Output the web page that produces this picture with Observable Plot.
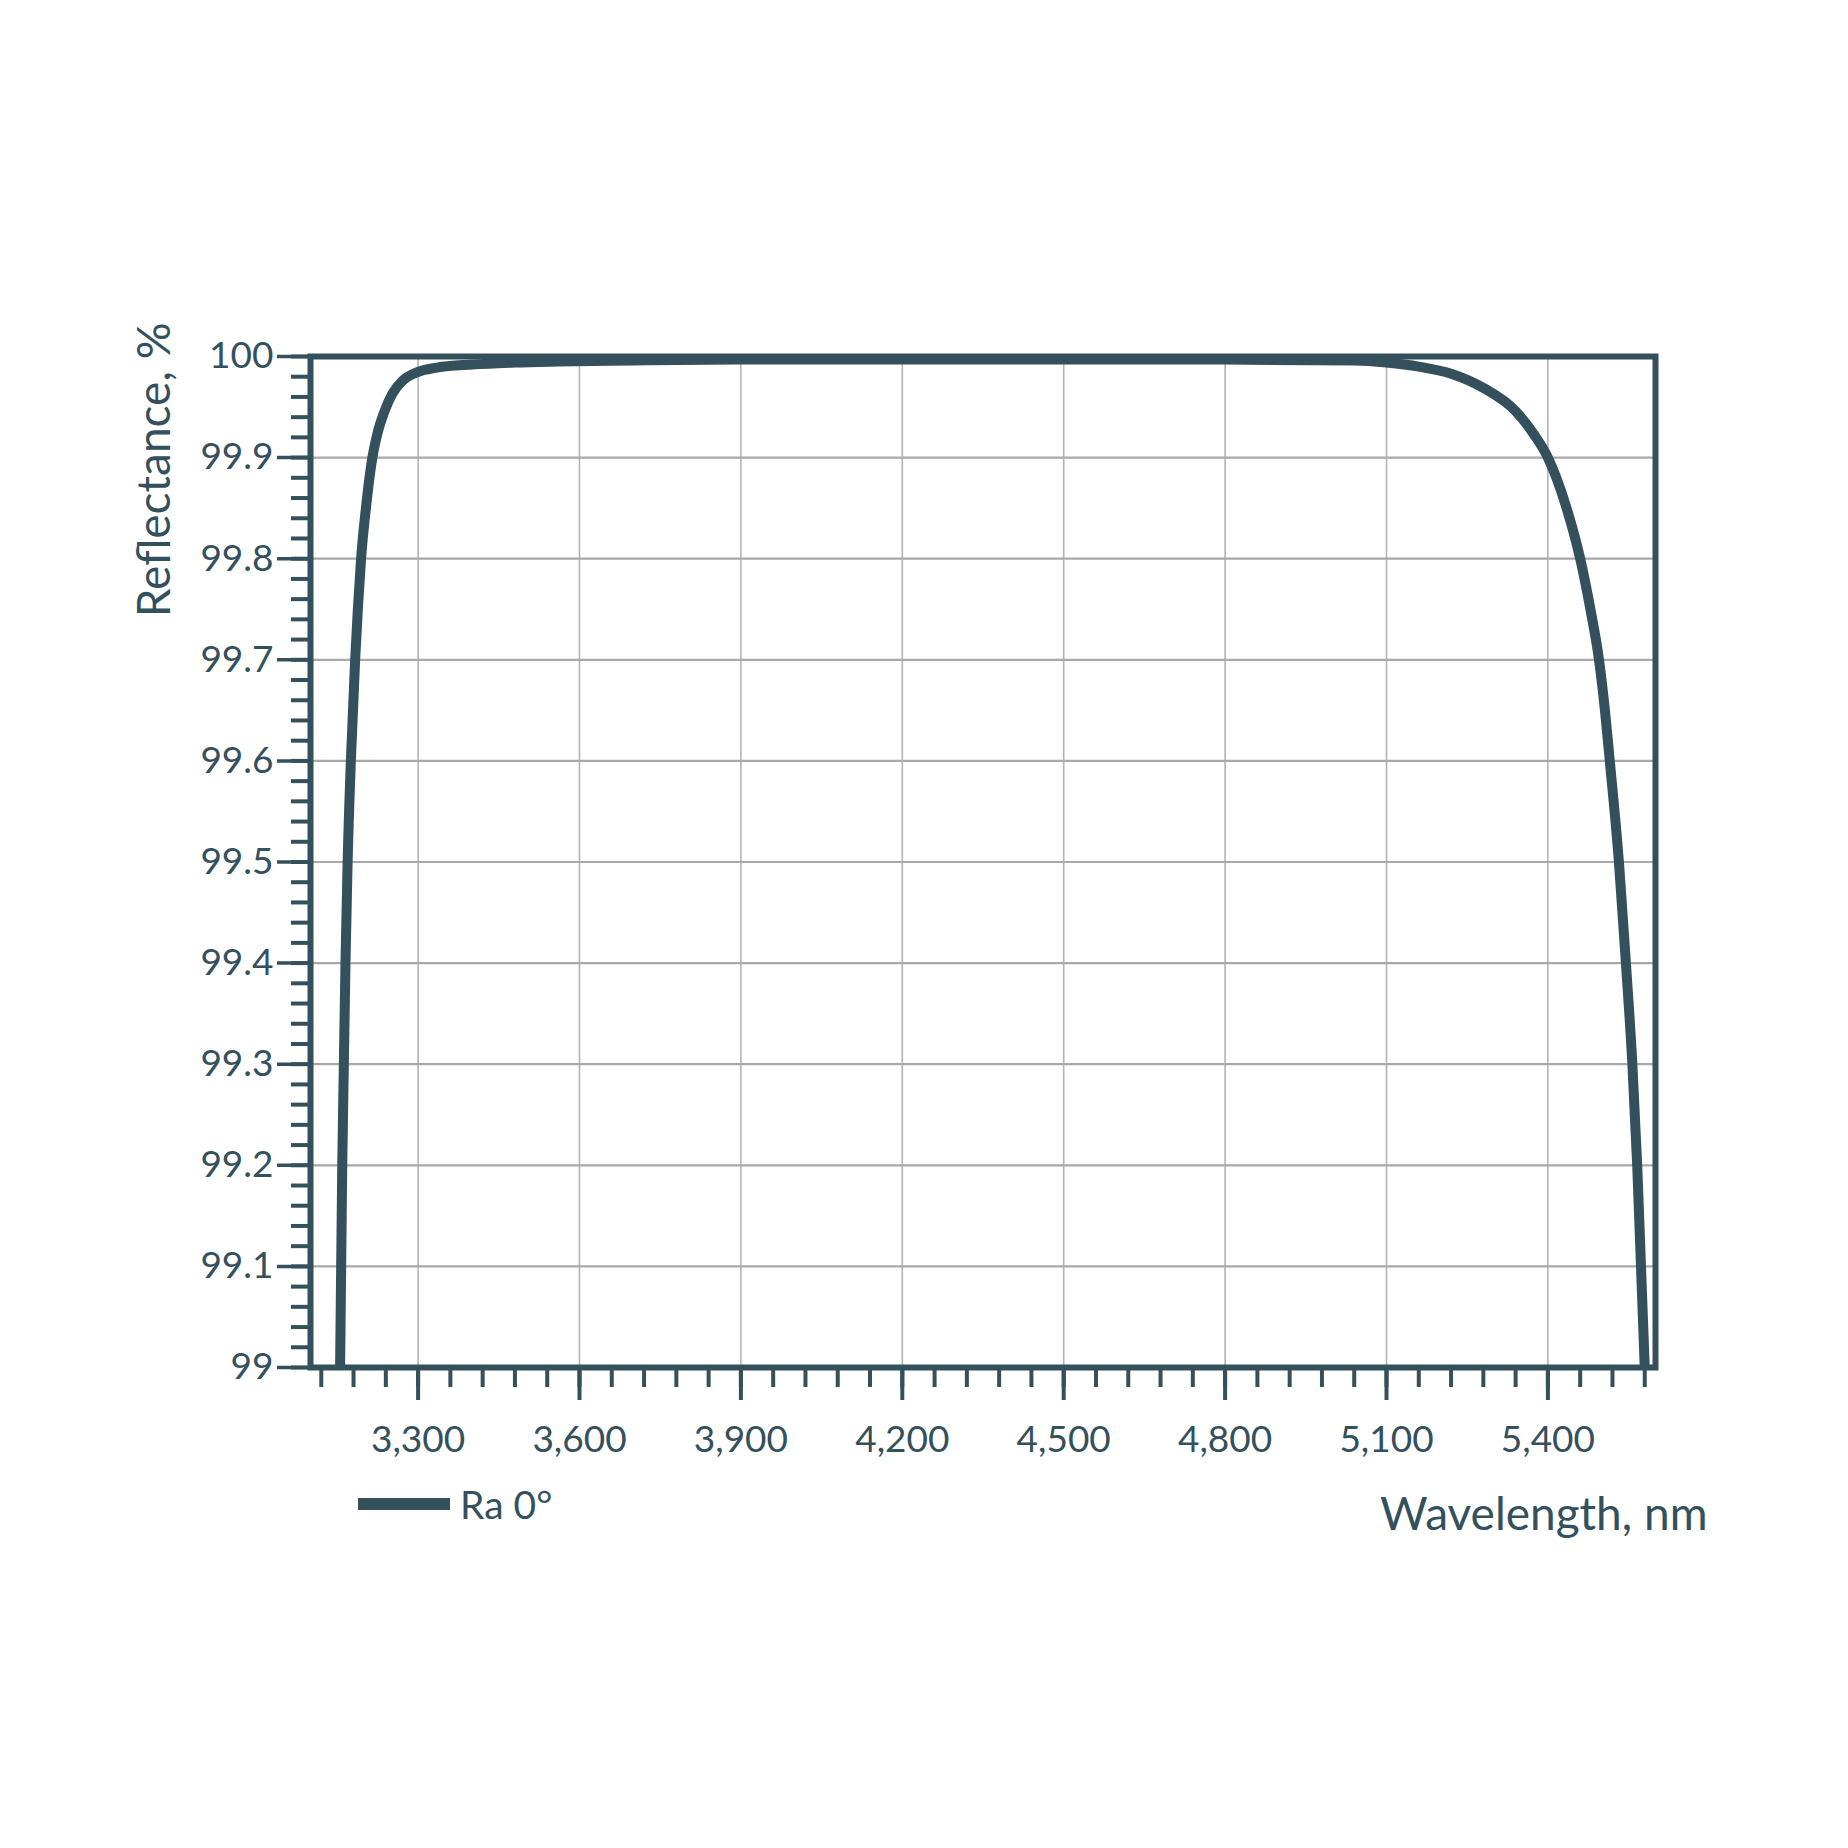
<!DOCTYPE html>
<html>
<head>
<meta charset="utf-8">
<script src="https://cdn.jsdelivr.net/npm/d3@7"></script>
<script src="https://cdn.jsdelivr.net/npm/@observablehq/plot@0.6"></script>
<style>
  html, body { margin: 0; padding: 0; background: #ffffff; }
  #wrap { position: relative; width: 1848px; height: 1848px; background: #ffffff; font-family: Lato, "Open Sans", sans-serif; color: #34505c; }
  #legend { position: absolute; left: 358px; top: 1479px; height: 50px; display: flex; align-items: center; gap: 10px; font-size: 39px; }
  #legend .swatch { width: 92px; height: 12px; background: #34505c; }
</style>
</head>
<body>
<div id="wrap">
  <div id="chart"></div>
  <div id="legend"><span class="swatch"></span><span>Ra 0°</span></div>
</div>
<script>
// Wavelength (nm)
const wavelength = [
  3155, 3157, 3159, 3162, 3165, 3169, 3175, 3183, 3188, 3194, 3203, 3215, 3225, 3237, 3252, 3271, 3296, 3335, 3400, 3480,
  3560, 3700, 3900, 4200, 4500, 4800, 5040, 5100, 5160, 5220, 5280, 5340, 5374, 5400, 5433, 5460, 5479, 5495, 5506, 5515,
  5532, 5545, 5557, 5566, 5573, 5580
];
// Reflectance (%), series "Ra 0°"
const reflectance = [
  99.00, 99.10, 99.20, 99.30, 99.40, 99.50, 99.60, 99.70, 99.75, 99.80, 99.85, 99.90, 99.925, 99.945, 99.963, 99.976, 99.984, 99.989, 99.992, 99.994,
  99.995, 99.996, 99.997, 99.997, 99.997, 99.997, 99.996, 99.994, 99.990, 99.983, 99.969, 99.946, 99.923, 99.90, 99.853, 99.80, 99.75, 99.70, 99.65, 99.60,
  99.50, 99.40, 99.30, 99.20, 99.10, 99.00
];
const seriesName = "Ra 0°";

const xMajorTicks = [3300, 3600, 3900, 4200, 4500, 4800, 5100, 5400];
const xMinorTicks = d3.range(3120, 5600, 60);
const yMajorTicks = [99, 99.1, 99.2, 99.3, 99.4, 99.5, 99.6, 99.7, 99.8, 99.9, 100];
const yMinorTicks = d3.range(0, 51).map(i => 99 + i * 0.02);

const xTitle = "Wavelength, nm";
const yTitle = "Reflectance, %";

const ink = "#34505c";
const data = wavelength.map((w, i) => ({w, r: reflectance[i], s: seriesName}));

const plot = Plot.plot({
  width: 1848,
  height: 1560,
  marginLeft: 310,
  marginRight: 193,
  marginTop: 356,
  marginBottom: 193,
  style: {fontFamily: "Lato, 'Open Sans', sans-serif", fontSize: "37px", color: ink, background: "#ffffff", overflow: "visible"},
  x: {domain: [3100, 5600], label: null},
  y: {domain: [99, 100], label: null},
  marks: [
    Plot.gridX(xMajorTicks, {stroke: "#b3b3b3", strokeOpacity: 1, strokeWidth: 1.6}),
    Plot.gridY(yMajorTicks.filter(d => d > 99 && d < 100), {stroke: "#a9a9a9", strokeOpacity: 1, strokeWidth: 2.2}),
    Plot.line(data, {x: "w", y: "r", stroke: ink, strokeWidth: 10, curve: "monotone-x", clip: "frame", strokeLinejoin: "round"}),
    Plot.axisX(xMinorTicks, {tickSize: 20, strokeWidth: 4, text: null, stroke: ink}),
    Plot.axisX(xMajorTicks, {tickSize: 33, tickPadding: 25, strokeWidth: 4, stroke: ink, fill: ink, tickFormat: d3.format(","), fontSize: 37}),
    Plot.axisY(yMinorTicks, {tickSize: 19, strokeWidth: 4, text: null, stroke: ink}),
    Plot.axisY(yMajorTicks, {tickSize: 33, tickPadding: 4, strokeWidth: 3.5, stroke: ink, fill: ink, tickFormat: d => String(+d.toFixed(1)), fontSize: 37}),
    Plot.frame({stroke: ink, strokeWidth: 6}),
    Plot.text([yTitle], {frameAnchor: "top-left", rotate: -90, textAnchor: "end", dx: -173, dy: -34, fontSize: 46, fill: ink}),
    Plot.text([xTitle], {frameAnchor: "bottom-right", textAnchor: "end", dx: 52, dy: 162, fontSize: 46, fill: ink})
  ]
});
document.getElementById("chart").appendChild(plot);
</script>
</body>
</html>
